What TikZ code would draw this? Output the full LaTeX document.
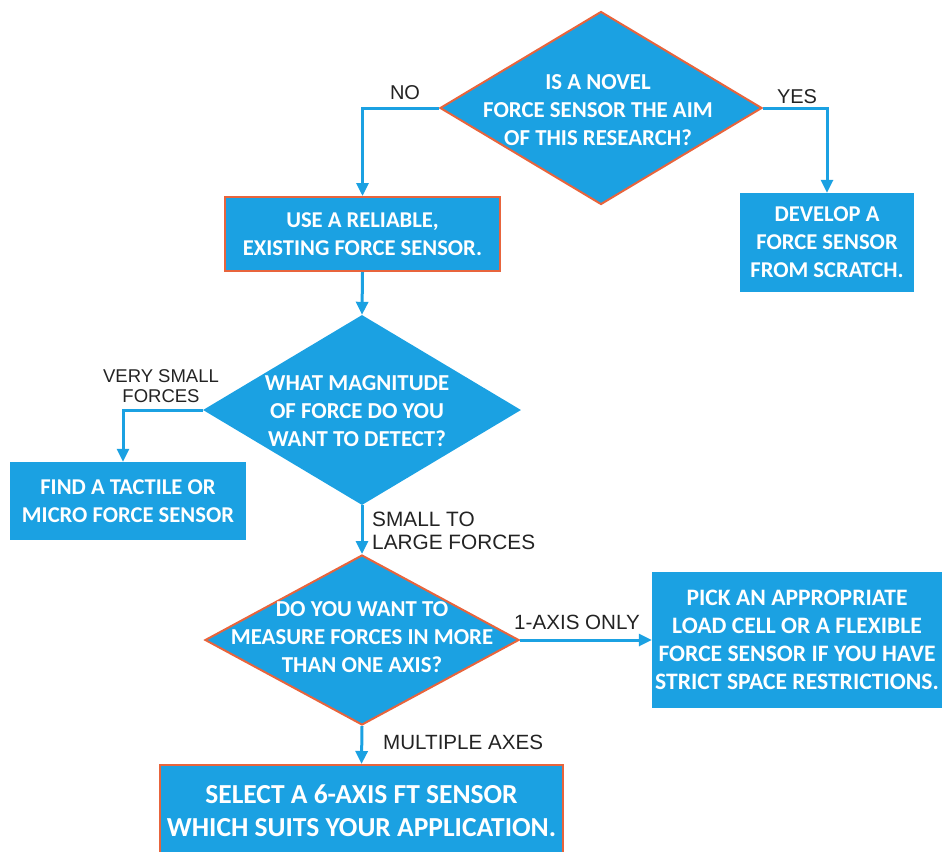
\documentclass[tikz,border=0pt]{standalone}
\usepackage{fontspec}
\setmainfont{Carlito}
\newfontfamily\labfont{Liberation Sans}
\usetikzlibrary{shapes.geometric,arrows.meta}
\definecolor{fcblue}{RGB}{27,161,226}
\definecolor{fcorange}{RGB}{232,100,60}
\definecolor{fclabel}{RGB}{35,35,35}
\begin{document}
\begin{tikzpicture}[x=1pt,y=-1pt,
  box/.style={rectangle, fill=fcblue, inner sep=0pt, text=white,
    font=\bfseries\fontsize{22.6}{28}\selectfont, align=center},
  obox/.style={box, draw=fcorange, line width=2pt},
  dia/.style={diamond, fill=fcblue, inner sep=0pt},
  odia/.style={dia, draw=fcorange, line width=2pt},
  dtext/.style={inner sep=0pt, text=white, font=\bfseries\fontsize{22.8}{28}\selectfont, align=center},
  lab/.style={inner sep=0pt, text=fclabel, font=\labfont\fontsize{20}{21}\selectfont},
  conn/.style={draw=fcblue, line width=3pt, -{Triangle[length=13pt,width=12pt]}}
]
\useasboundingbox (0,0) rectangle (944,851);

% decisions
\node[odia, minimum width=322, minimum height=193] (d1) at (601,108) {};
\node[dtext] (d1t) at (598,110) {IS A NOVEL\\FORCE SENSOR THE AIM\\OF THIS RESEARCH?};

\node[dia, minimum width=318, minimum height=190] (d2) at (362,410) {};
\node[dtext] (d2t) at (357,411) {WHAT MAGNITUDE\\OF FORCE DO YOU\\WANT TO DETECT?};

\node[odia, minimum width=314, minimum height=170] (d3) at (362,640) {};
\node[dtext] (d3t) at (362,637) {DO YOU WANT TO\\MEASURE FORCES IN MORE\\THAN ONE AXIS?};

% boxes
\node[obox, minimum width=275, minimum height=74] (b1) at (362.5,234) {USE A RELIABLE,\\EXISTING FORCE SENSOR.};
\node[box, minimum width=174, minimum height=99] (b2) at (827,242.5) {DEVELOP A\\FORCE SENSOR\\FROM SCRATCH.};
\node[box, minimum width=236, minimum height=78] (b3) at (128,501) {FIND A TACTILE OR\\MICRO FORCE SENSOR};
\node[box, minimum width=290, minimum height=136, font=\bfseries\fontsize{23.6}{28}\selectfont] (b4) at (797,640) {PICK AN APPROPRIATE\\LOAD CELL OR A FLEXIBLE\\FORCE SENSOR IF YOU HAVE\\STRICT SPACE RESTRICTIONS.};
\node[obox, minimum width=403, minimum height=92, font=\bfseries\fontsize{27.5}{33}\selectfont] (b5) at (361.5,811) {SELECT A 6-AXIS FT SENSOR\\WHICH SUITS YOUR APPLICATION.};

% connectors
\draw[conn] (d1.west) -| (b1.north);
\draw[conn] (d1.east) -| (b2.north);
\draw[conn] (b1.south) -- (d2.north);
\draw[conn] (d2.west) -| ([xshift=-5pt]b3.north);
\draw[conn] (d2.south) -- (d3.north);
\draw[conn] (d3.east) -- (b4.west);
\draw[conn] (d3.south) -- (b5.north);

% labels
\node[lab] (lno) at (405,93) {NO};
\node[lab] (lyes) at (797,97) {YES};
\node[lab, align=center, font=\labfont\fontsize{18.5}{20}\selectfont] (lvs) at (161,386) {VERY SMALL\\FORCES};
\node[lab, align=left, anchor=west, font=\labfont\fontsize{20.8}{23}\selectfont] (lsl) at (372,531) {SMALL TO\\LARGE FORCES};
\node[lab, font=\labfont\fontsize{20.6}{21}\selectfont] (l1a) at (577,622) {1-AXIS ONLY};
\node[lab, anchor=west, font=\labfont\fontsize{20.6}{21}\selectfont] (lma) at (383,742) {MULTIPLE AXES};
\end{tikzpicture}
\end{document}
